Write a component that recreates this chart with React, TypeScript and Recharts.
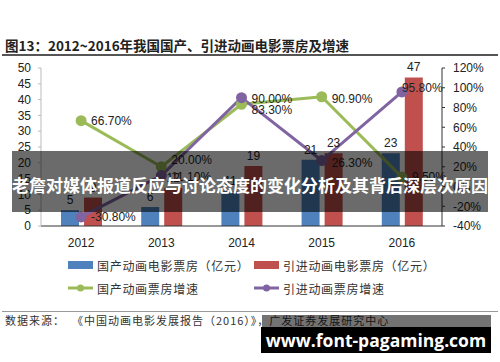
import React from "react";
import { ComposedChart, Bar, Line, XAxis, YAxis, LabelList } from "recharts";

const years = ["2012", "2013", "2014", "2015", "2016"];
const domesticBox = [5, 6, 11, 21, 23];
const importedBox = [9, 12, 19, 23, 47];
const domesticGrowth = [66.7, 20.0, 83.3, 90.9, 9.5];
const importedGrowth = [-30.8, 11.1, 90.0, 26.3, 95.8];
const leftTicks = [0, 5, 10, 15, 20, 25, 30, 35, 40, 45, 50];
const rightTicks = [-40, -20, 0, 20, 40, 60, 80, 100, 120];

// small label nudges [dx, dy] so crowded percentage labels sit like the original
const greenNudge = [[0, 0], [0, -7], [0, 6], [0, 2], [0, 0]];
const purpleNudge = [[0, 0], [0, 1], [0, 1], [0, 2], [-10, -4]];

const BLUE = "#4f81bd";
const RED = "#c0504d";
const GREEN = "#9bbb59";
const PURPLE = "#8064a2";
const CJK = '"Noto Sans CJK SC", "Liberation Sans", sans-serif';
const NUM = '"Liberation Sans", Arial, sans-serif';

const data = years.map((year, i) => ({
  year,
  domestic: domesticBox[i],
  imported: importedBox[i],
  domesticRate: domesticGrowth[i],
  importedRate: importedGrowth[i],
}));

const rateLabel = (nudge: number[][]) => (props: any) => {
  const { x, y, value, index } = props;
  const [dx, dy] = nudge[index] ?? [0, 0];
  return (
    <text
      x={x + 10 + dx}
      y={y + dy}
      dy="0.35em"
      textAnchor="start"
      fontSize={12}
      fill="#222"
      fontFamily={NUM}
    >
      {`${Number(value).toFixed(2)}%`}
    </text>
  );
};

const legendItems = [
  { label: "国产动画电影票房（亿元）", color: BLUE, kind: "bar", x: 68, y: 265 },
  { label: "引进动画电影票房（亿元）", color: RED, kind: "bar", x: 254, y: 265 },
  { label: "国产动画票房增速", color: GREEN, kind: "line", x: 68, y: 288 },
  { label: "引进动画票房增速", color: PURPLE, kind: "line", x: 254, y: 288 },
];

const ChartLegend = () => (
  <>
    {legendItems.map((it) => (
      <div
        key={it.label}
        style={{ position: "absolute", left: it.x, top: it.y - 9, height: 18, display: "flex", alignItems: "center" }}
      >
        <svg width={26} height={10} style={{ marginRight: 3 }}>
          {it.kind === "bar" ? (
            <rect x={0} y={1} width={25} height={8} fill={it.color} />
          ) : (
            <>
              <line x1={0} y1={5} x2={25} y2={5} stroke={it.color} strokeWidth={3} />
              <circle cx={12.5} cy={5} r={3.5} fill={it.color} />
            </>
          )}
        </svg>
        <span style={{ fontFamily: CJK, fontSize: 12, letterSpacing: 0.7, color: "#333" }}>{it.label}</span>
      </div>
    ))}
  </>
);

export default function App() {
  return (
    <div style={{ position: "absolute", left: 0, top: 0, width: 500, height: 362, background: "#fff", overflow: "hidden" }}>
      <div style={{ position: "absolute", left: 5, top: 35, fontFamily: CJK, fontWeight: 700, fontSize: 13.5, color: "#222", whiteSpace: "nowrap" }}>
        图13：2012~2016年我国国产、引进动画电影票房及增速
      </div>
      <div style={{ position: "absolute", left: 2, top: 54, width: 496, height: 1.5, background: "#555" }} />

      <div style={{ position: "absolute", left: 0, top: 0 }}>
        <ComposedChart
          width={500}
          height={362}
          data={data}
          margin={{ top: 68, right: 0, bottom: 106, left: 0 }}
          barCategoryGap="24%"
          barGap={5}
        >
          <XAxis
            dataKey="year"
            tickLine={false}
            axisLine={{ stroke: "#333" }}
            height={30}
            tick={{ fontSize: 12, fill: "#222", fontFamily: NUM }}
            tickMargin={6}
          />
          <YAxis
            yAxisId="left"
            width={41}
            domain={[0, 50]}
            ticks={leftTicks}
            interval={0}
            axisLine={{ stroke: "#bbb" }}
            tickLine={{ stroke: "#bbb" }}
            tickSize={3}
            tickMargin={7}
            tick={{ fontSize: 12, fill: "#222", fontFamily: NUM }}
          />
          <YAxis
            yAxisId="right"
            orientation="right"
            width={58}
            domain={[-40, 120]}
            ticks={rightTicks}
            interval={0}
            axisLine={{ stroke: "#333" }}
            tickLine={{ stroke: "#333" }}
            tickSize={3}
            tickMargin={8}
            tickFormatter={(v) => `${v}%`}
            tick={{ fontSize: 12, fill: "#222", fontFamily: NUM }}
          />
          <Bar yAxisId="left" dataKey="domestic" fill={BLUE} barSize={18} isAnimationActive={false}>
            <LabelList dataKey="domestic" position="top" offset={6} style={{ fontSize: 12, fill: "#222", fontFamily: NUM }} />
          </Bar>
          <Bar yAxisId="left" dataKey="imported" fill={RED} barSize={18} isAnimationActive={false}>
            <LabelList dataKey="imported" position="top" offset={6} style={{ fontSize: 12, fill: "#222", fontFamily: NUM }} />
          </Bar>
          <Line
            yAxisId="right"
            dataKey="domesticRate"
            stroke={GREEN}
            strokeWidth={3}
            dot={{ r: 4, fill: GREEN, stroke: GREEN }}
            isAnimationActive={false}
          >
            <LabelList dataKey="domesticRate" content={rateLabel(greenNudge)} />
          </Line>
          <Line
            yAxisId="right"
            dataKey="importedRate"
            stroke={PURPLE}
            strokeWidth={3}
            dot={{ r: 4, fill: PURPLE, stroke: PURPLE }}
            isAnimationActive={false}
          >
            <LabelList dataKey="importedRate" content={rateLabel(purpleNudge)} />
          </Line>
        </ComposedChart>
      </div>

      <ChartLegend />

      <div style={{ position: "absolute", left: 2, top: 311, width: 496, height: 1, background: "#999" }} />
      <div style={{ position: "absolute", left: 5, top: 312, fontFamily: CJK, fontSize: 11, color: "#333", whiteSpace: "nowrap", letterSpacing: 1 }}>
        数据来源：&nbsp;&nbsp;《中国动画电影发展报告（2016）》，广发证券发展研究中心
      </div>

      <div
        style={{
          position: "absolute",
          left: 12,
          top: 151,
          width: 476,
          height: 61,
          background: "rgba(0,0,0,0.58)",
          color: "#fff",
          fontFamily: CJK,
          fontWeight: 700,
          fontSize: 17,
          display: "flex",
          alignItems: "center",
          justifyContent: "center",
          paddingTop: 6,
          boxSizing: "border-box",
          whiteSpace: "nowrap",
        }}
      >
        老詹对媒体报道反应与讨论态度的变化分析及其背后深层次原因
      </div>

      <div style={{ position: "absolute", left: 262, top: 315, width: 229, height: 12, background: "rgba(0,0,0,0.55)" }} />
      <div
        style={{
          position: "absolute",
          left: 261,
          top: 327,
          width: 230,
          height: 26,
          background: "#000",
          color: "#fff",
          fontFamily: '"Open Sans", "DejaVu Sans", sans-serif',
          fontWeight: 700,
          fontSize: 17.5,
          display: "flex",
          alignItems: "center",
          justifyContent: "center",
          whiteSpace: "nowrap",
        }}
      >
        www.font-pagaming.com
      </div>
    </div>
  );
}
